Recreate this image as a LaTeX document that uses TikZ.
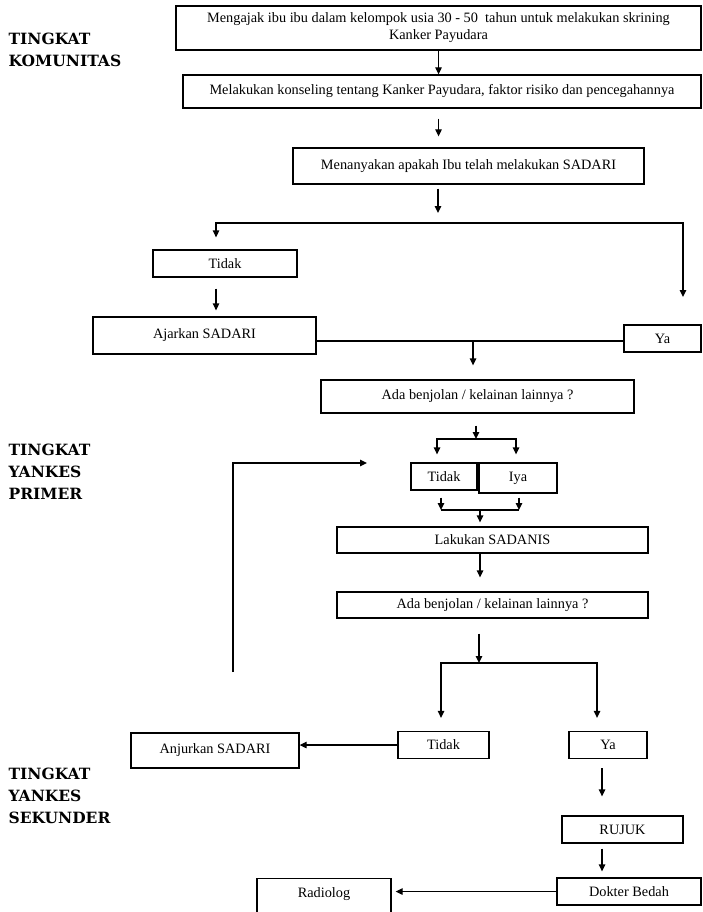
\documentclass[tikz,border=0pt]{standalone}
\usepackage{fontspec}
\setmainfont{Liberation Serif}
\newfontfamily\levelfont{DejaVu Serif}
\usetikzlibrary{arrows.meta, positioning, calc}

\begin{document}
\begin{tikzpicture}[x=1pt, y=-1pt, line width=1.3pt,
  box/.style={draw, inner sep=1pt, align=center,
    font=\fontsize{14.3}{17}\selectfont},
  arr/.style={-{Triangle[length=7pt,width=6.5pt]}},
  arrboth/.style={{Triangle[length=7pt,width=6.5pt]}-{Triangle[length=7pt,width=6.5pt]}},
  level/.style={anchor=west, align=left, inner sep=0pt,
    font=\levelfont\bfseries\fontsize{15.5}{22}\selectfont}]
\useasboundingbox (0,0) rectangle (702,912);

% level labels
\node[level] (komunitas) at (8,50) {TINGKAT\\KOMUNITAS};
\node[level] (primer) at (8,472) {TINGKAT\\YANKES\\PRIMER};
\node[level] (sekunder) at (8,796) {TINGKAT\\YANKES\\SEKUNDER};

% boxes
\node[box, minimum width=525, minimum height=44] (ajak) at (438.5,28)
  {Mengajak ibu ibu dalam kelompok usia 30 - 50~ tahun untuk melakukan skrining\\Kanker Payudara};
\node[box, minimum width=518, minimum height=33] (konseling) at (442,91.5)
  {Melakukan konseling tentang Kanker Payudara, faktor risiko dan pencegahannya};
\node[box, minimum width=351, minimum height=36] (tanya) at (468.5,166)
  {Menanyakan apakah Ibu telah melakukan SADARI};
\node[box, minimum width=144, minimum height=27] (tidakA) at (225,263.5) {Tidak};
\node[box, minimum width=223, minimum height=37] (ajarkan) at (204.5,335.5) {Ajarkan SADARI};
\node[box, minimum width=77, minimum height=27] (yaA) at (662.5,338.5) {Ya};
\node[box, minimum width=313, minimum height=33] (benjolA) at (477.5,396.5)
  {Ada benjolan / kelainan lainnya ?};
\node[box, minimum width=66, minimum height=27] (tidakB) at (444,476.5) {Tidak};
\node[box, minimum width=78, minimum height=30] (iyaB) at (518,478) {Iya};
\node[box, minimum width=311, minimum height=26] (sadanis) at (492.5,540) {Lakukan SADANIS};
\node[box, minimum width=311, minimum height=26] (benjolB) at (492.5,605)
  {Ada benjolan / kelainan lainnya ?};
\node[box, minimum width=91, minimum height=27] (tidakC) at (443.5,745) {Tidak};
\node[box, minimum width=78, minimum height=27] (yaC) at (608,745) {Ya};
\node[box, minimum width=168, minimum height=35] (anjurkan) at (215,750.5) {Anjurkan SADARI};
\node[box, minimum width=121, minimum height=27] (rujuk) at (622.5,829.5) {RUJUK};
\node[box, minimum width=144, minimum height=27] (dokter) at (629,891.5) {Dokter Bedah};
\node[box, minimum width=134, anchor=north, inner ysep=9pt, text depth=28pt] (radiolog)
  at (324,878) {Radiolog};

% junction points
\coordinate (jA) at (438,223);
\coordinate (jAl) at (216,223);
\coordinate (jAr) at (683,223);
\coordinate (yaAin) at (683,297);
\coordinate (jB) at (473,341);
\coordinate (jC) at (476,439);
\coordinate (jCl) at (437,439);
\coordinate (jCr) at (516,439);
\coordinate (jD) at (480,510);
\coordinate (jDl) at (441,510);
\coordinate (jDr) at (519,510);
\coordinate (jE) at (479,663);
\coordinate (jEl) at (441,663);
\coordinate (jEr) at (597,663);
\coordinate (jF) at (602,780);
\coordinate (loopA) at (233,672);
\coordinate (loopB) at (367,463);

% connectors
\draw[arr] (ajak.south) -- (ajak.south |- konseling.north);
\draw[arr, shorten <=10pt, shorten >=11pt] (ajak.south |- konseling.south) -- (ajak.south |- tanya.north);
\draw[arr, shorten <=4pt, shorten >=10pt] (jA |- tanya.south) -- (jA);
\draw[arrboth, shorten <=12pt] (jAl |- tidakA.north) -- (jAl) -- (jAr) -- (yaAin);
\draw[arr, shorten <=11pt, shorten >=6pt] (jAl |- tidakA.south) -- (jAl |- ajarkan.north);
\draw (ajarkan.east |- jB) -- (yaA.west |- jB);
\draw[arr, shorten >=14pt] (jB) -- (jB |- benjolA.north);
\draw[arr, shorten <=12pt] (jC |- benjolA.south) -- (jC);
\draw[arrboth, shorten <=8pt, shorten >=8pt] (jCl |- tidakB.north) -- (jCl) -- (jCr) -- (jCr |- iyaB.north);
\draw[arr, shorten <=7pt] (jDl |- tidakB.south) -- (jDl);
\draw[arr, shorten <=4pt] (jDr |- iyaB.south) -- (jDr);
\draw (jDl) -- (jDr);
\draw[arr, shorten >=4pt] (jD) -- (jD |- sadanis.north);
\draw[arr, shorten >=14pt] (jD |- sadanis.south) -- (jD |- benjolB.north);
\draw[arr, shorten <=15pt] (jE |- benjolB.south) -- (jE);
\draw[arrboth, shorten <=13pt, shorten >=13pt] (jEl |- tidakC.north) -- (jEl) -- (jEr) -- (jEr |- yaC.north);
\draw[arr] (tidakC.west) -- (tidakC.west -| anjurkan.east);
\draw[arr, shorten <=9pt, shorten >=19pt] (jF |- yaC.south) -- (jF |- rujuk.north);
\draw[arr, shorten <=5pt, shorten >=6pt] (jF |- rujuk.south) -- (jF |- dokter.north);
\draw[arr, shorten >=4pt] (dokter.west) -- (dokter.west -| radiolog.east);
\draw[arr] (loopA) |- (loopB);
\end{tikzpicture}
\end{document}
